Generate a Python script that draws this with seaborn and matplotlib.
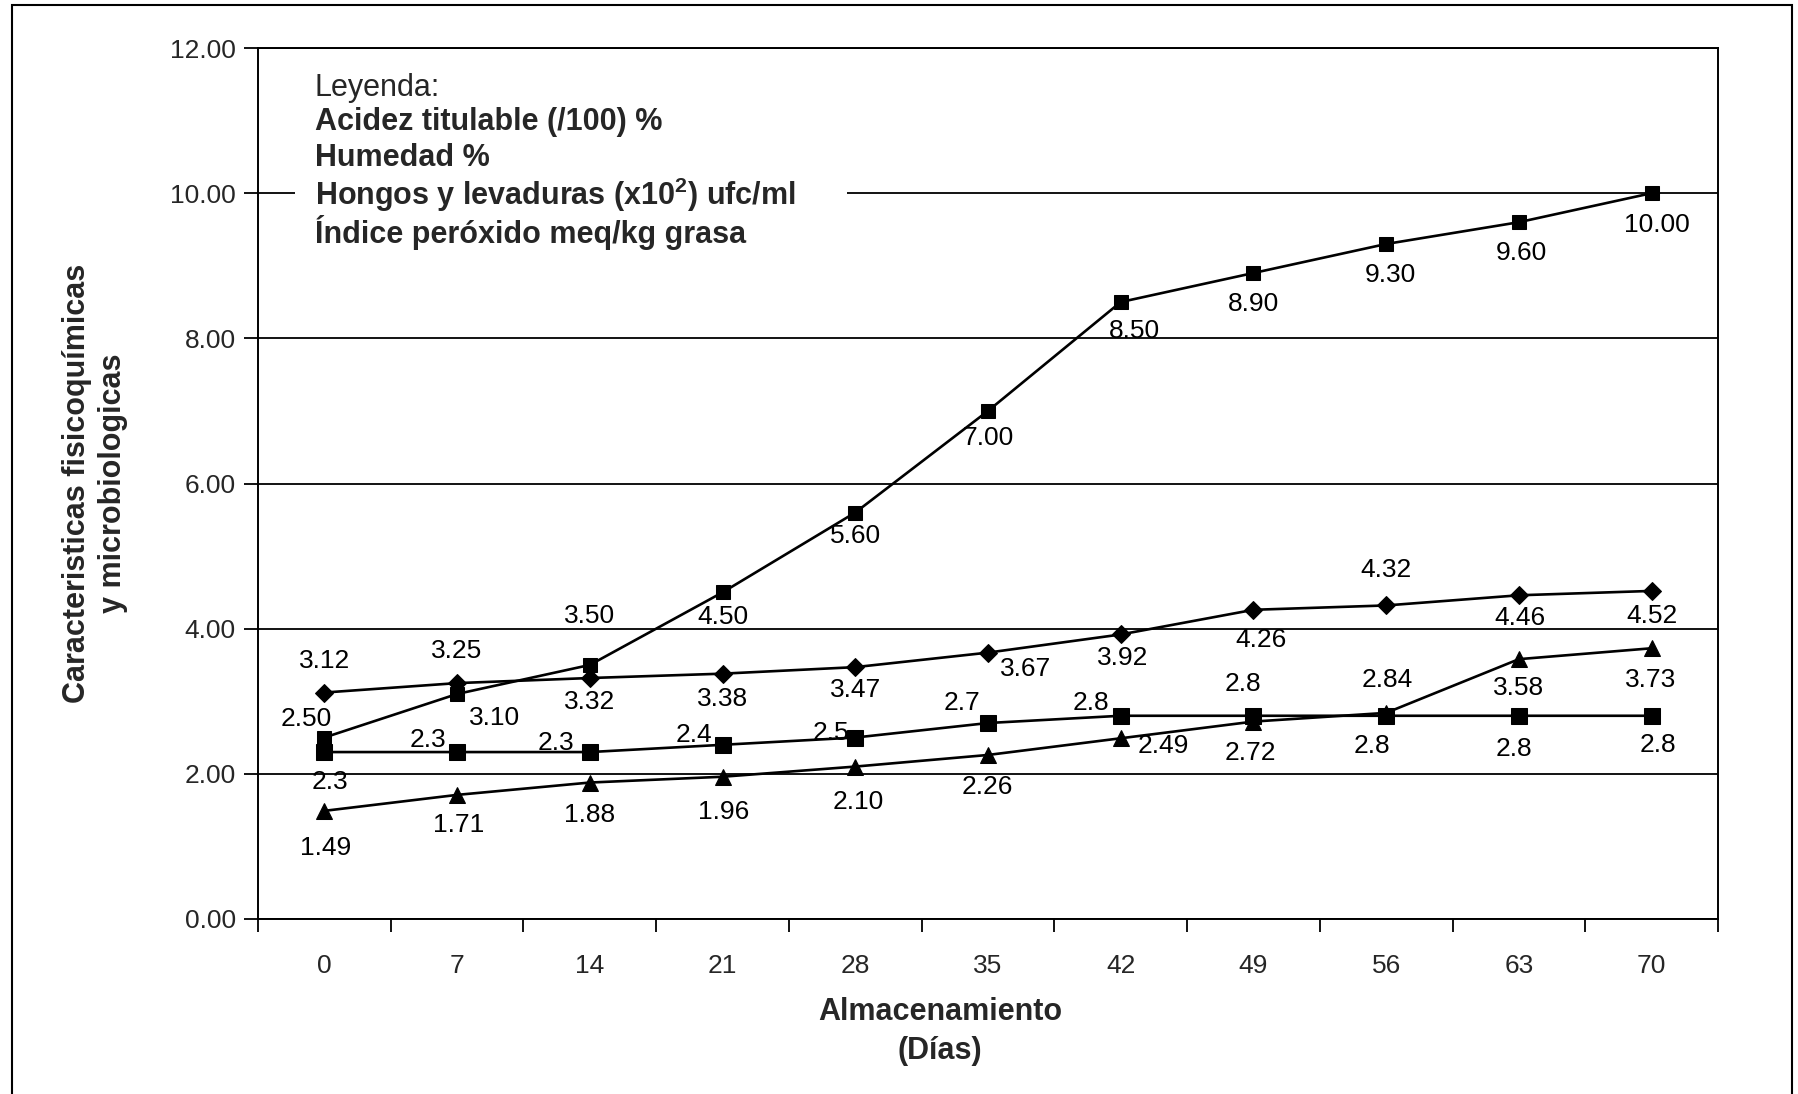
import matplotlib
matplotlib.use("Agg")
import matplotlib.pyplot as plt
import seaborn as sns
import numpy as np
import pandas as pd
from matplotlib.patches import Rectangle
from matplotlib.ticker import FixedLocator, FormatStrFormatter

# ---------------- data ----------------
dias = [0, 7, 14, 21, 28, 35, 42, 49, 56, 63, 70]
acidez = [3.12, 3.25, 3.32, 3.38, 3.47, 3.67, 3.92, 4.26, 4.32, 4.46, 4.52]
humedad = [2.50, 3.10, 3.50, 4.50, 5.60, 7.00, 8.50, 8.90, 9.30, 9.60, 10.00]
hongos = [2.3, 2.3, 2.3, 2.4, 2.5, 2.7, 2.8, 2.8, 2.8, 2.8, 2.8]
peroxido = [1.49, 1.71, 1.88, 1.96, 2.10, 2.26, 2.49, 2.72, 2.84, 3.58, 3.73]

acidez_lbl = ["3.12", "3.25", "3.32", "3.38", "3.47", "3.67", "3.92", "4.26", "4.32", "4.46", "4.52"]
humedad_lbl = ["2.50", "3.10", "3.50", "4.50", "5.60", "7.00", "8.50", "8.90", "9.30", "9.60", "10.00"]
hongos_lbl = ["2.3", "2.3", "2.3", "2.4", "2.5", "2.7", "2.8", "2.8", "2.8", "2.8", "2.8"]
peroxido_lbl = ["1.49", "1.71", "1.88", "1.96", "2.10", "2.26", "2.49", "2.72", "2.84", "3.58", "3.73"]

y_ticks = [0, 2, 4, 6, 8, 10, 12]
legend_title = "Leyenda:"
legend_items = ["Acidez titulable (/100) %",
                "Humedad %",
                r"Hongos y levaduras (x10$^{\mathbf{2}}$) ufc/ml",
                "Índice peróxido meq/kg grasa"]

# label offsets (pixels, dx right, dy down) -- styling only
acidez_off = [(0, -32), (0, -32), (0, 24), (0, 25), (0, 23), (38, 16), (2, 24), (8, 30), (0, -35), (1, 23), (0, 25)]
humedad_off = [(-18, -19), (37, 24), (0, -49), (0, 25), (0, 23), (0, 27), (14, 29), (0, 31), (4, 31), (2, 31), (5, 32)]
hongos_off = [(6, 30), (-29, -12), (-34, -9), (-29, -10), (-24, -5), (-26, -20), (-30, -13), (-11, -32), (-14, 30), (-5, 33), (6, 29)]
peroxido_off = [(1, 37), (2, 30), (0, 32), (1, 35), (3, 35), (-1, 32), (43, 8), (-3, 31), (1, -33), (0, 29), (-1, 32)]

# ---------------- style ----------------
sns.set_style("white")
plt.rcParams['font.family'] = ['Liberation Sans', 'DejaVu Sans']
plt.rcParams['mathtext.fontset'] = 'custom'
plt.rcParams['mathtext.rm'] = 'Liberation Sans'
plt.rcParams['mathtext.bf'] = 'Liberation Sans:bold'

W, H = 1799, 1094
fig = plt.figure(figsize=(W / 100, H / 100), dpi=100)
left, right, top, bottom = 258, 1718, 48, 919
ax = fig.add_axes([left / W, 1 - bottom / H, (right - left) / W, (bottom - top) / H])

px2pt = 72 / 100.0

series = [
    (acidez, acidez_lbl, acidez_off, "D", 9.5),
    (humedad, humedad_lbl, humedad_off, "s", 10),
    (hongos, hongos_lbl, hongos_off, "s", 11.5),
    (peroxido, peroxido_lbl, peroxido_off, "^", 12),
]

for vals, lbls, offs, mk, ms in series:
    df = pd.DataFrame({"dias": dias, "valor": vals})
    sns.lineplot(data=df, x="dias", y="valor", ax=ax, color="black",
                 marker=mk, markersize=ms, markeredgecolor="black",
                 markerfacecolor="black", linewidth=1.9, zorder=4)
    for xv, yv, lb, (dx, dy) in zip(dias, vals, lbls, offs):
        ax.annotate(lb, (xv, yv), xytext=(dx * px2pt, -dy * px2pt),
                    textcoords="offset points", ha="center", va="center",
                    fontsize=19, color="black", zorder=6)

ax.set_xlim(-3.5, 73.5)
ax.set_ylim(0, 12)
ax.set_xticks(dias)
ax.set_xticklabels([str(d) for d in dias], fontsize=19)
ax.xaxis.set_minor_locator(FixedLocator([d - 3.5 for d in dias] + [73.5]))
ax.tick_params(axis="x", which="both", bottom=True)
ax.tick_params(axis="x", which="major", length=0, pad=25)
ax.tick_params(axis="x", which="minor", length=9, width=1.3, color="black", direction="out")
ax.set_yticks(y_ticks)
ax.yaxis.set_major_formatter(FormatStrFormatter("%.2f"))
ax.tick_params(axis="y", which="major", left=True, length=10, width=1.3, color="black",
               direction="out", labelsize=19, pad=6)
ax.yaxis.grid(True, color="black", linewidth=1.3, zorder=0)
ax.xaxis.grid(False)
ax.set_axisbelow(True)
for sp in ax.spines.values():
    sp.set_visible(True)
    sp.set_color("black")
    sp.set_linewidth(1.4)
ax.set_xlabel("")
ax.set_ylabel("")

# legend box (text only)
ax.add_patch(Rectangle((37 / (right - left), 0.77), (847 - 295) / (right - left), 0.21,
                       transform=ax.transAxes, facecolor="white", edgecolor="none", zorder=2))
lx = (315 - left) / (right - left)
line_y = [88, 122, 158, 195, 232]
ax.text(lx, (bottom - line_y[0]) / (bottom - top), legend_title, transform=ax.transAxes,
        fontsize=22, ha="left", va="center", zorder=3)
for yy, item in zip(line_y[1:], legend_items):
    ax.text(lx, (bottom - yy) / (bottom - top), item, transform=ax.transAxes,
            fontsize=22, fontweight="bold", ha="left", va="center", zorder=3)

# axis titles
fig.text(940 / W, 1 - 1012 / H, "Almacenamiento", fontsize=22, fontweight="bold",
         ha="center", va="center")
fig.text(940 / W, 1 - 1051 / H, "(Días)", fontsize=22, fontweight="bold",
         ha="center", va="center")
fig.text(95 / W, 1 - 483 / H, "Caracteristicas fisicoquímicas\ny microbiologicas",
         fontsize=22, fontweight="bold", rotation=90, ha="center", va="center",
         multialignment="center", linespacing=1.3)

# outer frame
fig.patches.append(Rectangle((12 / W, -0.02), (1792 - 12) / W, 1.02 - 5 / H,
                             transform=fig.transFigure, fill=False,
                             edgecolor="black", linewidth=1.5))

fig.savefig("out.png", dpi=100, facecolor="white")
